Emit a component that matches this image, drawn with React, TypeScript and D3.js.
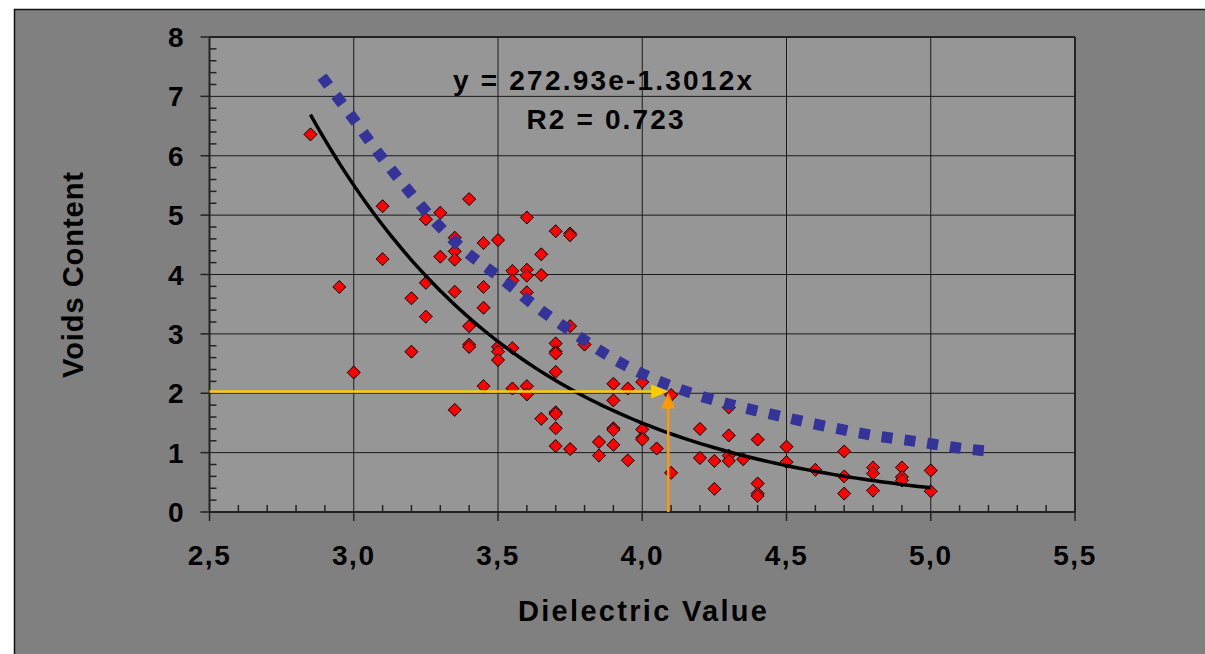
import React from "react";
import * as d3 from "d3";

// Measured samples: dielectric value vs. voids content
const dielectric = [
  2.85, 2.95, 3.0, 3.1, 3.1, 3.2, 3.2, 3.25, 3.25, 3.25, 3.3, 3.3, 3.35, 3.35, 3.35, 3.35, 3.35,
  3.4, 3.4, 3.4, 3.4, 3.45, 3.45, 3.45, 3.45, 3.5, 3.5, 3.5, 3.5, 3.55, 3.55, 3.55, 3.55,
  3.6, 3.6, 3.6, 3.6, 3.6, 3.6, 3.65, 3.65, 3.65, 3.7, 3.7, 3.7, 3.7, 3.7, 3.7, 3.7, 3.7, 3.7,
  3.75, 3.75, 3.75, 3.75, 3.8, 3.85, 3.85, 3.9, 3.9, 3.9, 3.9, 3.9, 3.95, 3.95,
  4.0, 4.0, 4.0, 4.0, 4.05, 4.1, 4.1, 4.2, 4.2, 4.25, 4.25, 4.3, 4.3, 4.3, 4.3, 4.35,
  4.4, 4.4, 4.4, 4.4, 4.5, 4.5, 4.6, 4.7, 4.7, 4.7, 4.8, 4.8, 4.8, 4.9, 4.9, 4.9, 5.0, 5.0,
];
const voids = [
  6.36, 3.79, 2.35, 5.15, 4.26, 3.6, 2.7, 4.93, 3.86, 3.29, 5.04, 4.3, 4.62, 4.39, 4.25, 3.71, 1.72,
  5.27, 3.13, 2.82, 2.78, 4.53, 3.79, 3.44, 2.12, 4.58, 2.78, 2.7, 2.56, 4.06, 3.9, 2.76, 2.08,
  4.96, 4.08, 3.98, 3.7, 2.12, 1.98, 4.34, 3.99, 1.57, 4.73, 2.84, 2.7, 2.67, 2.36, 1.68, 1.65, 1.41, 1.11,
  4.69, 4.66, 3.13, 1.06, 2.82, 1.18, 0.95, 2.16, 1.88, 1.41, 1.38, 1.13, 2.08, 0.87,
  2.19, 1.39, 1.25, 1.22, 1.07, 1.97, 0.66, 1.4, 0.91, 0.86, 0.39, 1.76, 1.29, 0.95, 0.86, 0.89,
  1.22, 0.48, 0.31, 0.27, 1.1, 0.84, 0.71, 1.02, 0.6, 0.31, 0.75, 0.65, 0.36, 0.75, 0.59, 0.53, 0.7, 0.35,
];

// Exponential fit y = a * e^(b x)
const fitA = 272.93;
const fitB = -1.3012;
const fitR2 = 0.723;
const fitRange = [2.85, 5.0];

// Upper envelope curve (dotted)
const envelopeX = [2.89, 2.99, 3.08, 3.18, 3.28, 3.39, 3.52, 3.64, 3.77, 3.9, 4.04, 4.19, 4.34, 4.49, 4.65, 4.8, 4.96, 5.11, 5.19];
const envelopeY = [7.33, 6.68, 6.08, 5.47, 4.9, 4.38, 3.9, 3.43, 2.99, 2.58, 2.24, 1.97, 1.77, 1.6, 1.43, 1.29, 1.18, 1.07, 1.03];

// Read-off guide: dielectric 4.09 -> voids 2.03
const guideX = 4.09;
const guideY = 2.03;

const xTicks = [2.5, 3.0, 3.5, 4.0, 4.5, 5.0, 5.5];
const yTicks = [0, 1, 2, 3, 4, 5, 6, 7, 8];

const FONT = "'Liberation Sans', Arial, Helvetica, sans-serif";

export default function App() {
  const x = d3.scaleLinear().domain([2.5, 5.5]).range([209.5, 1075]);
  const y = d3.scaleLinear().domain([0, 8]).range([512, 37]);
  const [x0, x1] = x.range();
  const [y0, y1] = y.range();

  const xMinor = d3.range(26, 55).map((v) => v / 10).filter((v) => Math.abs(v * 2 - Math.round(v * 2)) > 1e-6);
  const yMinor = d3.range(1, 40).map((v) => v / 5).filter((v) => Math.abs(v - Math.round(v)) > 1e-6);

  const fitPts = d3.range(0, 101).map((i) => {
    const xv = fitRange[0] + ((fitRange[1] - fitRange[0]) * i) / 100;
    return [xv, fitA * Math.exp(fitB * xv)] as [number, number];
  });
  const line = d3
    .line<[number, number]>()
    .x((d) => x(d[0]))
    .y((d) => y(d[1]));
  const envLine = d3
    .line<[number, number]>()
    .x((d) => x(d[0]))
    .y((d) => y(d[1]))
    .curve(d3.curveCatmullRom);
  const envPts = envelopeX.map((v, i) => [v, envelopeY[i]] as [number, number]);

  const gx = x(guideX);
  const gy = y(guideY);
  const r = 6.5;

  return (
    <svg
      width={1205}
      height={654}
      style={{ position: "absolute", left: 0, top: 0, background: "#fff" }}
      fontFamily={FONT}
    >
      <rect x={14.5} y={9.5} width={1200} height={660} fill="#808080" stroke="#111" strokeWidth={1.5} />
      <rect x={x0} y={y1} width={x1 - x0} height={y0 - y1} fill="#969696" />

      {/* grid */}
      {xTicks.slice(1, -1).map((t) => (
        <line key={"gx" + t} x1={x(t)} x2={x(t)} y1={y1} y2={y0} stroke="#1a1a1a" strokeWidth={1} />
      ))}
      {yTicks.slice(1, -1).map((t) => (
        <line key={"gy" + t} x1={x0} x2={x1} y1={y(t)} y2={y(t)} stroke="#1a1a1a" strokeWidth={1} />
      ))}

      {/* frame */}
      <line x1={x0} x2={x1} y1={y1} y2={y1} stroke="#222" strokeWidth={2} />
      <line x1={x1} x2={x1} y1={y1} y2={y0} stroke="#222" strokeWidth={2} />
      <line x1={x0} x2={x0} y1={y1} y2={y0} stroke="#222" strokeWidth={2} />
      <line x1={x0} x2={x1} y1={y0} y2={y0} stroke="#222" strokeWidth={2} />

      {/* ticks */}
      {xTicks.map((t) => (
        <line key={"xt" + t} x1={x(t)} x2={x(t)} y1={y0} y2={y0 + 9} stroke="#222" strokeWidth={1.5} />
      ))}
      {xMinor.map((t) => (
        <line key={"xm" + t} x1={x(t)} x2={x(t)} y1={y0} y2={y0 - 7} stroke="#222" strokeWidth={1.5} />
      ))}
      {yTicks.map((t) => (
        <line key={"yt" + t} x1={x0 - 9} x2={x0} y1={y(t)} y2={y(t)} stroke="#222" strokeWidth={1.5} />
      ))}
      {yMinor.map((t) => (
        <line key={"ym" + t} x1={x0} x2={x0 + 7} y1={y(t)} y2={y(t)} stroke="#222" strokeWidth={1.5} />
      ))}

      {/* tick labels */}
      {xTicks.map((t) => (
        <text
          key={"xl" + t}
          x={x(t)}
          y={565}
          textAnchor="middle"
          fontSize={28}
          fontWeight="bold"
          letterSpacing={1.5}
          fill="#000"
        >
          {t.toFixed(1).replace(".", ",")}
        </text>
      ))}
      {yTicks.map((t) => (
        <text key={"yl" + t} x={183.5} y={y(t) + 10} textAnchor="end" fontSize={28} fontWeight="bold" fill="#000">
          {t}
        </text>
      ))}

      {/* axis titles */}
      <text
        x={642.5}
        y={621}
        textAnchor="middle"
        fontSize={29}
        fontWeight="bold"
        textLength={249}
        lengthAdjust="spacing"
        fill="#000"
      >
        Dielectric Value
      </text>
      <text
        transform="translate(83,275) rotate(-90)"
        textAnchor="middle"
        fontSize={29}
        fontWeight="bold"
        textLength={206}
        lengthAdjust="spacing"
        fill="#000"
      >
        Voids Content
      </text>

      {/* samples */}
      {dielectric.map((dv, i) => {
        const cx = x(dv);
        const cy = y(voids[i]);
        return (
          <path
            key={"p" + i}
            d={`M${cx},${cy - r}L${cx + r},${cy}L${cx},${cy + r}L${cx - r},${cy}Z`}
            fill="#ff0000"
            stroke="#000"
            strokeWidth={1}
          />
        );
      })}

      {/* exponential fit */}
      <path d={line(fitPts) || ""} fill="none" stroke="#000" strokeWidth={3.5} strokeLinejoin="round" />

      {/* envelope */}
      <path
        d={envLine(envPts) || ""}
        fill="none"
        stroke="#333399"
        strokeWidth={11}
        strokeDasharray="11 12"
      />

      {/* fit equation */}
      <text
        x={602.5}
        y={90}
        textAnchor="middle"
        fontSize={28}
        fontWeight="bold"
        textLength={299}
        lengthAdjust="spacing"
        fill="#000"
      >
        {`y = ${fitA}e${fitB}x`}
      </text>
      <text
        x={605}
        y={129}
        textAnchor="middle"
        fontSize={28}
        fontWeight="bold"
        textLength={157}
        lengthAdjust="spacing"
        fill="#000"
      >
        {`R2 = ${fitR2}`}
      </text>

      {/* read-off arrows */}
      <line x1={x0} x2={gx - 15} y1={gy} y2={gy} stroke="#ffcc00" strokeWidth={2.5} />
      <path d={`M${gx},${gy}L${gx - 17},${gy - 7}L${gx - 17},${gy + 7}Z`} fill="#ffcc00" />
      <line x1={gx} x2={gx} y1={y0} y2={gy + 14} stroke="#ff9900" strokeWidth={2.5} />
      <path d={`M${gx},${gy + 1}L${gx - 7},${gy + 17}L${gx + 7},${gy + 17}Z`} fill="#ff9900" />
    </svg>
  );
}
